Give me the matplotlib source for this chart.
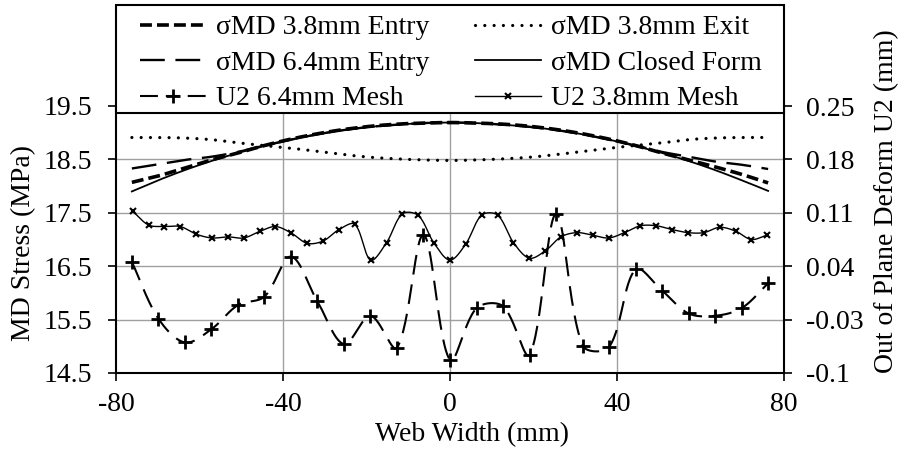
import numpy as np
import matplotlib
matplotlib.use('Agg')
import matplotlib.pyplot as plt
from matplotlib.patches import Rectangle
from matplotlib.lines import Line2D

plt.rcParams['font.family'] = ['Liberation Serif', 'DejaVu Serif']
FS = 20

# ---------------- data ----------------
x_sigma = [-76.2, -69.85, -63.5, -57.15, -50.8, -44.45, -38.1, -31.75, -25.4, -19.05, -12.7, -6.35, 0,
           6.35, 12.7, 19.05, 25.4, 31.75, 38.1, 44.45, 50.8, 57.15, 63.5, 69.85, 76.2]
closed_form = [17.90, 18.11, 18.30, 18.47, 18.62, 18.75, 18.87, 18.97, 19.05, 19.11, 19.15, 19.18, 19.19,
               19.18, 19.15, 19.11, 19.05, 18.97, 18.87, 18.75, 18.62, 18.47, 18.30, 18.11, 17.91]
entry_38 = [18.07, 18.19, 18.34, 18.49, 18.62, 18.76, 18.88, 18.98, 19.06, 19.12, 19.16, 19.18, 19.19,
            19.18, 19.16, 19.12, 19.06, 18.98, 18.88, 18.76, 18.62, 18.49, 18.36, 18.22, 18.06]
entry_64 = [18.33, 18.41, 18.49, 18.55, 18.64, 18.76, 18.87, 18.97, 19.05, 19.11, 19.15, 19.18, 19.19,
            19.18, 19.15, 19.11, 19.05, 18.97, 18.87, 18.76, 18.64, 18.55, 18.46, 18.40, 18.32]
exit_38 = [18.91, 18.91, 18.90, 18.87, 18.81, 18.76, 18.71, 18.65, 18.59, 18.54, 18.51, 18.49, 18.48,
           18.49, 18.51, 18.54, 18.59, 18.65, 18.71, 18.76, 18.81, 18.87, 18.90, 18.91, 18.91]

x_u2_38 = [-76.0, -72.2, -68.4, -64.6, -60.8, -57.0, -53.2, -49.4, -45.6, -41.8, -38.0, -34.2, -30.4,
           -26.6, -22.8, -19.0, -15.2, -11.4, -7.6, -3.8, 0.0, 3.8, 7.6, 11.4, 15.2, 19.0, 22.8, 26.6,
           30.4, 34.2, 38.0, 41.8, 45.6, 49.4, 53.2, 57.0, 60.8, 64.6, 68.4, 72.2, 76.0]
u2_38 = [0.112, 0.094, 0.092, 0.092, 0.082, 0.077, 0.0785, 0.077, 0.0855, 0.092, 0.0834, 0.070, 0.073,
         0.088, 0.095, 0.048, 0.071, 0.1086, 0.1065, 0.070, 0.048, 0.0694, 0.107, 0.107, 0.071, 0.0505,
         0.060, 0.0785, 0.084, 0.0806, 0.077, 0.084, 0.093, 0.093, 0.088, 0.084, 0.084, 0.091, 0.086,
         0.075, 0.081]

x_u2_64 = [-76.2, -69.85, -63.5, -57.15, -50.8, -44.45, -38.1, -31.75, -25.4, -19.05, -12.7, -6.35, 0,
           6.35, 12.7, 19.05, 25.4, 31.75, 38.1, 44.45, 50.8, 57.15, 63.5, 69.85, 76.2]
u2_64 = [0.0456, -0.0286, -0.060, -0.0426, -0.011, 0.0001, 0.0526, -0.0062, -0.0622, -0.025, -0.067,
         0.081, -0.083, -0.015, -0.0125, -0.076, 0.1086, -0.064, -0.066, 0.036, 0.008, -0.022, -0.025,
         -0.015, 0.0176]

left_ticks = [14.5, 15.5, 16.5, 17.5, 18.5, 19.5]
right_ticks = [-0.1, -0.03, 0.04, 0.11, 0.18, 0.25]
right_labels = ['-0.1', '-0.03', '0.04', '0.11', '0.18', '0.25']
x_ticks = [-80, -40, 0, 40, 80]

W, H = 904, 450
L, R, T, B = 116, 784, 106, 373
XLIM = (-80, 80)
YLIM = (14.5, 19.5)
Y2LIM = (-0.1, 0.25)


def smooth(x, y, sx, sy, n=30):
    """Excel-like smoothed line: Bezier segments with chord-weighted tangents
    computed in screen (pixel) space."""
    p = np.column_stack([np.asarray(x, float) * sx, np.asarray(y, float) * sy])
    pp = np.vstack([p[0], p, p[-1]])
    t = np.linspace(0, 1, n)[:, None]
    out = []
    for i in range(1, len(pp) - 2):
        p0, p1, p2, p3 = pp[i - 1], pp[i], pp[i + 1], pp[i + 2]
        d01 = np.linalg.norm(p1 - p0)
        d12 = np.linalg.norm(p2 - p1)
        d23 = np.linalg.norm(p3 - p2)
        f1 = d12 / (3.0 * (d01 + d12)) if d01 + d12 > 0 else 0
        f2 = d12 / (3.0 * (d12 + d23)) if d12 + d23 > 0 else 0
        c1 = p1 + (p2 - p0) * f1
        c2 = p2 - (p3 - p1) * f2
        seg = ((1 - t) ** 3) * p1 + 3 * ((1 - t) ** 2) * t * c1 + 3 * (1 - t) * t ** 2 * c2 + t ** 3 * p2
        out.append(seg if i == 1 else seg[1:])
    s = np.vstack(out)
    return s[:, 0] / sx, s[:, 1] / sy


fig = plt.figure(figsize=(W / 100, H / 100), dpi=100)
ax = fig.add_axes([L / W, 1 - B / H, (R - L) / W, (B - T) / H])
ax2 = ax.twinx()

SX = (R - L) / (XLIM[1] - XLIM[0])
SY = (B - T) / (YLIM[1] - YLIM[0])
SY2 = (B - T) / (Y2LIM[1] - Y2LIM[0])

grid_c = '#A0A0A0'
ax.set_xlim(*XLIM)
ax.set_ylim(*YLIM)
ax2.set_ylim(*Y2LIM)
ax.set_xticks(x_ticks)
ax.set_xticklabels([str(v) for v in x_ticks])
ax.set_yticks(left_ticks)
ax.set_yticklabels([f'{v:.1f}' for v in left_ticks])
ax2.set_yticks(right_ticks)
ax2.set_yticklabels(right_labels)

for v in [-40, 0, 40]:
    ax.axvline(v, color=grid_c, lw=1.0, zorder=0)
for v in [15.5, 16.5, 17.5, 18.5]:
    ax.axhline(v, color=grid_c, lw=1.0, zorder=0)

for a in (ax, ax2):
    a.spines['top'].set_visible(False)
    for s in ['left', 'right', 'bottom']:
        a.spines[s].set_linewidth(1.5)
        a.spines[s].set_color('black')
ax.spines['right'].set_visible(False)
ax2.spines['left'].set_visible(False)
ax2.spines['bottom'].set_visible(False)

ax.tick_params(axis='both', direction='out', length=6, width=1.2, labelsize=FS, colors='black')
ax.tick_params(axis='y', pad=11)
ax.tick_params(axis='x', pad=8)
ax2.tick_params(axis='y', direction='out', length=6, width=1.2, labelsize=FS, pad=10)

# sigma curves
xs, ys = smooth(x_sigma, closed_form, SX, SY)
h_cf, = ax.plot(xs, ys, color='black', lw=1.3)
xs, ys = smooth(x_sigma, exit_38, SX, SY)
h_ex, = ax.plot(xs, ys, color='black', lw=2.3, dashes=(0.01, 2.9), dash_capstyle='round')
xs, ys = smooth(x_sigma, entry_64, SX, SY)
h_e64, = ax.plot(xs, ys, color='black', lw=1.7, dashes=(10.5, 4.5))
xs, ys = smooth(x_sigma, entry_38, SX, SY)
h_e38, = ax.plot(xs, ys, color='black', lw=2.6, dashes=(3.3, 1.4))

# U2 curves
xs, ys = smooth(x_u2_38, u2_38, SX, SY2)
ax2.plot(xs, ys, color='black', lw=1.0)
ax2.plot(x_u2_38, u2_38, ls='none', marker='x', ms=4.5, mew=1.5, color='black')
xs, ys = smooth(x_u2_64, u2_64, SX, SY2)
ax2.plot(xs, ys, color='black', lw=1.5, dashes=(9.5, 4.8))
ax2.plot(x_u2_64, u2_64, ls='none', marker='+', ms=10, mew=2.0, color='black')

h_u38 = Line2D([], [], color='black', lw=1.0, marker='x', ms=4.5, mew=1.5)
h_u64 = Line2D([], [], color='black', lw=1.5, dashes=(8.6, 3.8, 6.7, 3.8, 8.6, 4.8),
               marker='+', ms=10, mew=2.0)

ax.set_ylabel('MD Stress (MPa)', fontsize=FS, va='center')
ax.yaxis.set_label_coords((24 - L) / (R - L), (B - 243) / (B - T))
ax2.set_ylabel('Out of Plane Deform U2 (mm)', fontsize=FS, va='center', rotation=90)
ax2.yaxis.set_label_coords((887 - L) / (R - L), (B - 201) / (B - T))
ax.set_xlabel('Web Width (mm)', fontsize=FS, va='center')
ax.xaxis.set_label_coords((471.7 - L) / (R - L), (B - 435) / (B - T))

# legend box
rect = Rectangle((L / W, 1 - 113 / H), (R - L) / W, (113 - 5) / H, transform=fig.transFigure,
                 facecolor='white', edgecolor='black', lw=1.5, zorder=1)
fig.patches.append(rect)

handles = [h_e38, h_e64, h_u64, h_ex, h_cf, h_u38]
labels = ['σMD 3.8mm Entry', 'σMD 6.4mm Entry', 'U2 6.4mm Mesh',
          'σMD 3.8mm Exit', 'σMD Closed Form', 'U2 3.8mm Mesh']
fig.legend(handles, labels, ncol=2, loc='upper left', bbox_to_anchor=(140 / W, 1 - 15 / H),
           frameon=False, fontsize=FS, handlelength=2.4, handletextpad=0.35,
           columnspacing=1.62, labelspacing=0.36, borderpad=0, borderaxespad=0, numpoints=1)

fig.savefig('out.png', dpi=100)
